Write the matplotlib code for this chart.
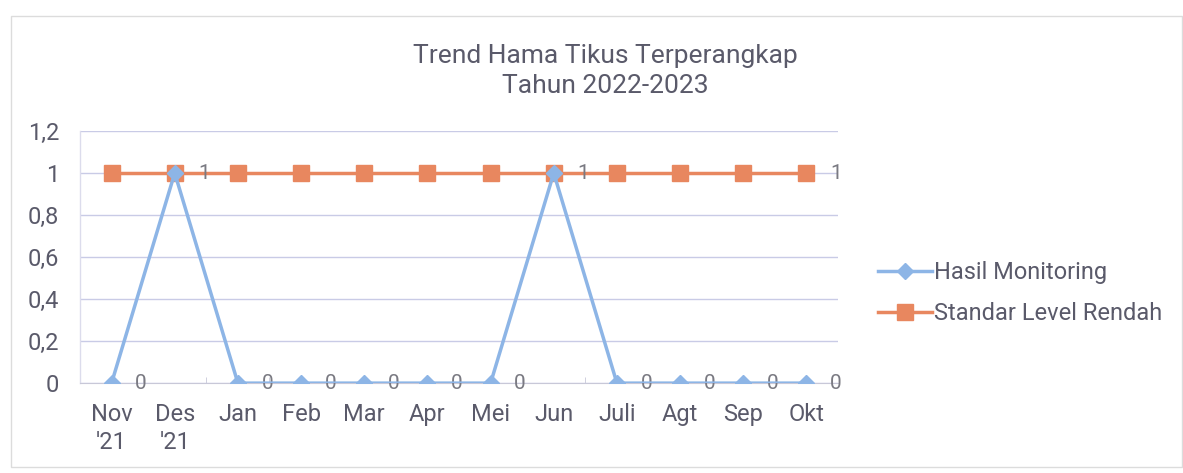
import matplotlib.pyplot as plt
from matplotlib.patches import Rectangle

plt.rcParams['font.family'] = ['Roboto', 'DejaVu Sans']

bulan = ["Nov\n'21", "Des\n'21", "Jan", "Feb", "Mar", "Apr", "Mei", "Jun", "Juli", "Agt", "Sep", "Okt"]
hasil = [0, 1, 0, 0, 0, 0, 0, 1, 0, 0, 0, 0]
standar = [1, 1, 1, 1, 1, 1, 1, 1, 1, 1, 1, 1]
yticks = [0, 0.2, 0.4, 0.6, 0.8, 1, 1.2]

txt = '#5a5a6a'
lbl = '#7a7a82'
biru = '#8db5e6'
oranye = '#e8875f'

fig = plt.figure(figsize=(11.83, 4.73), dpi=100)
fig.patches.append(Rectangle((0.009, 0.012), 0.99, 0.955, transform=fig.transFigure,
                             fill=False, ec='#dcdcdc', lw=1))
ax = fig.add_axes([0.0676, 0.190, 0.6408, 0.533])

x = list(range(len(bulan)))
ax.plot(x, standar, color=oranye, lw=2.5, marker='s', ms=12, label='Standar Level Rendah', zorder=3)
ax.plot(x, hasil, color=biru, lw=2.5, marker='D', ms=8.5, label='Hasil Monitoring', zorder=4)

for i, v in enumerate(hasil):
    ax.annotate(str(v), (i, v), xytext=(17, 0), textcoords='offset points',
                va='center', ha='left', fontsize=15, color=lbl)
ax.annotate(str(standar[-1]), (x[-1], standar[-1]), xytext=(17, 0), textcoords='offset points',
            va='center', ha='left', fontsize=15, color=lbl)

ax.set_xlim(-0.5, len(bulan) - 0.5)
ax.set_ylim(0, 1.2)
ax.set_yticks(yticks)
ax.set_yticklabels([('%g' % t).replace('.', ',') for t in yticks])
ax.set_xticks(x)
ax.set_xticklabels(bulan, linespacing=1.3)
ax.set_xticks([i + 0.5 for i in range(len(bulan) - 1)], minor=True)
ax.tick_params(axis='x', which='major', length=0, labelsize=17, labelcolor=txt, pad=14)
ax.tick_params(axis='x', which='minor', length=4, color='#c8c8d8', direction='in')
ax.tick_params(axis='y', length=0, labelsize=17, labelcolor=txt, pad=15)
ax.grid(axis='y', color='#c9cbe6', lw=1)
ax.set_axisbelow(True)
for s in ['top', 'right', 'left']:
    ax.spines[s].set_visible(False)
ax.spines['bottom'].set_color('#c8c8d8')
ax.plot([-0.5, -0.5], [0, 1.2], color='#dcdcec', lw=1, clip_on=False)

fig.text(0.512, 0.85, 'Trend Hama Tikus Terperangkap\nTahun 2022-2023', ha='center', va='center',
         fontsize=19, color=txt, linespacing=1.3)

h, l = ax.get_legend_handles_labels()
fig.legend(h[::-1], l[::-1], loc='center left', bbox_to_anchor=(0.724, 0.38), frameon=False,
           fontsize=17, labelcolor=txt, handlelength=2.3, handletextpad=0.1, labelspacing=0.75)

fig.savefig('out.png', dpi=100)
